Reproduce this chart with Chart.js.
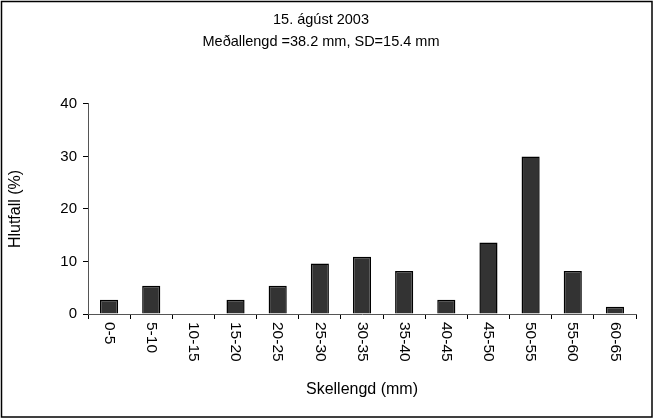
<!DOCTYPE html>
<html>
<head>
<meta charset="utf-8">
<script src="https://cdn.jsdelivr.net/npm/chart.js@4"></script>
<style>
  html, body { margin: 0; padding: 0; background: #fff; }
  #wrap { width: 659px; height: 419px; }
</style>
</head>
<body>
<div id="wrap"><canvas id="lengthChart" width="659" height="419"></canvas></div>
<script>
let sizeClasses = ['0-5', '5-10', '10-15', '15-20', '20-25', '25-30', '30-35', '35-40', '40-45', '45-50', '50-55', '55-60', '60-65'];
let percentValues = [2.7, 5.4, 0, 2.7, 5.4, 9.6, 10.9, 8.2, 2.7, 13.6, 30.0, 8.2, 1.4];
let yTicks = [0, 10, 20, 30, 40];
let titleLines = ['15. ágúst 2003', 'Meðallengd =38.2 mm, SD=15.4 mm'];

let fontName = '"Liberation Sans", Arial, sans-serif';

// x labels in the original read top-to-bottom, so draw them ourselves
let rotatedLabels = {
    id: 'rotatedLabels',
    afterDraw(chart) {
        let c = chart.ctx;
        let xs = chart.scales.x;
        c.save();
        c.font = '15.5px ' + fontName;
        c.fillStyle = '#000';
        c.textAlign = 'left';
        c.textBaseline = 'middle';
        xs.ticks.forEach(function(t, i) {
            let x = xs.getPixelForTick(i);
            c.save();
            c.translate(x, xs.top + 8);
            c.rotate(Math.PI / 2);
            c.fillText(sizeClasses[i], 0, 0);
            c.restore();
        });
        // outer frame
        c.strokeStyle = '#000';
        c.lineWidth = 1.5;
        c.strokeRect(1.5, 1.5, 650.5, 415.5);
        c.restore();
    }
};

let ctx = document.getElementById('lengthChart').getContext('2d');
let lengthChart = new Chart(ctx, {
    type: 'bar',
    data: {
        labels: sizeClasses,
        datasets: [{
            label: 'Hlutfall',
            data: percentValues,
            backgroundColor: '#333333',
            borderColor: '#000000',
            borderWidth: 1.5,
            barPercentage: 0.43,
            categoryPercentage: 1
        }]
    },
    options: {
        responsive: false,
        animation: false,
        layout: {
            padding: { left: 6, right: 23, top: 9, bottom: 20 }
        },
        plugins: {
            legend: { display: false },
            tooltip: { enabled: false },
            title: {
                display: true,
                text: titleLines,
                color: '#000',
                font: { family: fontName, size: 14.5, weight: 'normal', lineHeight: 1.517 },
                padding: { top: 0, bottom: 51 }
            }
        },
        scales: {
            x: {
                afterFit(scale) { scale.height = 85; },
                grid: {
                    offset: true,
                    drawOnChartArea: false,
                    drawTicks: true,
                    tickLength: 5,
                    color: '#000'
                },
                border: { color: '#555', width: 1 },
                ticks: {
                    minRotation: 90,
                    maxRotation: 90,
                    color: 'rgba(0,0,0,0)',
                    font: { family: fontName, size: 15 },
                    padding: 4
                },
                title: {
                    display: true,
                    text: 'Skellengd (mm)',
                    color: '#000',
                    font: { family: fontName, size: 16 },
                    padding: 0
                }
            },
            y: {
                min: 0,
                max: 40,
                afterFit(scale) { scale.width = 82; },
                afterBuildTicks(scale) {
                    scale.ticks = yTicks.map(function(v) { return { value: v }; });
                },
                grid: {
                    drawOnChartArea: false,
                    drawTicks: true,
                    tickLength: 5,
                    color: '#000'
                },
                border: { color: '#555', width: 1 },
                ticks: {
                    color: '#000',
                    font: { family: fontName, size: 15 },
                    padding: 6
                },
                title: {
                    display: true,
                    text: 'Hlutfall (%)',
                    color: '#000',
                    font: { family: fontName, size: 16 },
                    padding: 0
                }
            }
        }
    },
    plugins: [rotatedLabels]
});
</script>
</body>
</html>
